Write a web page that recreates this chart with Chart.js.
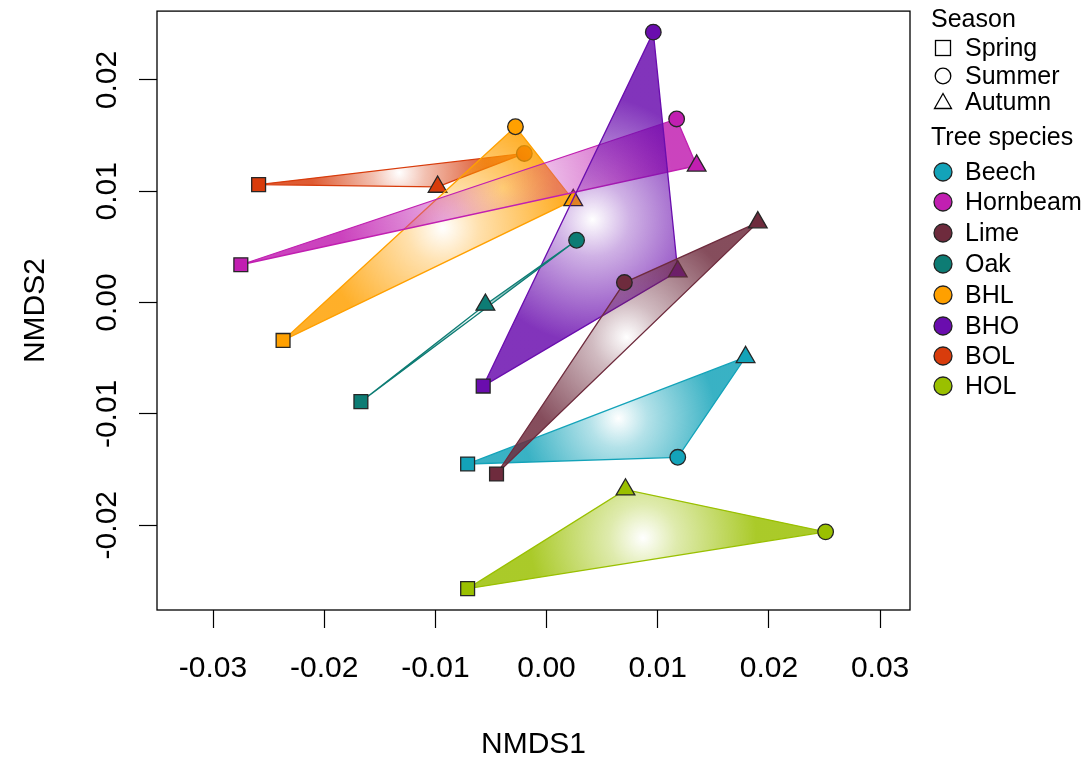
<!DOCTYPE html>
<html><head><meta charset="utf-8">
<script src="https://cdn.jsdelivr.net/npm/chart.js@4.4.1/dist/chart.umd.min.js"></script>
<style>
html,body{margin:0;padding:0;background:#fff;}
#wrap{position:relative;width:1087px;height:761px;overflow:hidden;}
#c{position:absolute;left:0;top:0;}
#legend{position:absolute;left:0;top:0;width:1087px;height:761px;pointer-events:none;font-family:"Liberation Sans",Arial,Helvetica,sans-serif;font-size:25px;color:#000;}
.row{position:absolute;height:26px;line-height:26px;white-space:nowrap;}
.sym{position:absolute;}
</style></head>
<body>
<div id="wrap">
<canvas id="c" width="1087" height="761"></canvas>
<div id="legend"></div>
</div>
<script>
// ---- data ----
const species = ['Beech','Hornbeam','Lime','Oak','BHL','BHO','BOL','HOL'];
const speciesColors = ['#13A3B9','#C11FB1','#6E2B3D','#0D7C74','#FFA000','#6A0DAE','#D83C0C','#9AC000'];
const seasons = ['Spring','Summer','Autumn'];
const seasonShapes = ['rect','circle','triangle'];
// NMDS1 per species: [Spring, Summer, Autumn]
const nmds1 = [
  [-0.0071, 0.0118, 0.0179],
  [-0.0275, 0.0117, 0.0135],
  [-0.0045, 0.0070, 0.0190],
  [-0.0167, 0.0027, -0.0055],
  [-0.0237, -0.0028, 0.0024],
  [-0.0057, 0.0096, 0.0118],
  [-0.0259, -0.0020, -0.0098],
  [-0.0071, 0.0251, 0.0071]
];
// NMDS2 per species: [Spring, Summer, Autumn]
const nmds2 = [
  [-0.0145, -0.0139, -0.0049],
  [0.0034, 0.0165, 0.0123],
  [-0.0154, 0.0018, 0.0072],
  [-0.0089, 0.0056, -0.0002],
  [-0.0034, 0.0158, 0.0092],
  [-0.0075, 0.0243, 0.0028],
  [0.0106, 0.0134, 0.0104],
  [-0.0257, -0.0206, -0.0168]
];
// layering (first = bottom)
const drawSequence = ['Beech','HOL','BOL','BHL','Hornbeam','BHO','Lime','Oak'];
const xTicks = [-0.03,-0.02,-0.01,0.00,0.01,0.02,0.03];
const xTickLabels = ['-0.03','-0.02','-0.01','0.00','0.01','0.02','0.03'];
const yTicks = [-0.02,-0.01,0.00,0.01,0.02];
const yTickLabels = ['-0.02','-0.01','0.00','0.01','0.02'];
const xRange = [-0.03504, 0.03269];
const yRange = [-0.02762, 0.02619];

// ---- helpers ----
function rgbOf(hex){
  const n = parseInt(hex.slice(1),16);
  return [(n>>16)&255, (n>>8)&255, n&255];
}
function rgba(hex, a){ const c = rgbOf(hex); return 'rgba('+c[0]+','+c[1]+','+c[2]+','+a+')'; }
const FONT = '"Liberation Sans", Arial, Helvetica, sans-serif';

function gradientFor(i){
  return function(ctx){
    const chart = ctx.chart;
    const xs = chart.scales.x, ys = chart.scales.y;
    const col = speciesColors[i];
    if (!chart.chartArea || !xs || !ys) return rgba(col,0.6);
    const px = nmds1[i].map(v => xs.getPixelForValue(v));
    const py = nmds2[i].map(v => ys.getPixelForValue(v));
    const gx = (px[0]+px[1]+px[2])/3, gy = (py[0]+py[1]+py[2])/3;
    const bx = (Math.min(...px)+Math.max(...px))/2, by = (Math.min(...py)+Math.max(...py))/2;
    const cx = (gx + bx) / 2, cy = (gy + by) / 2;
    let r = 0;
    for (let k=0;k<3;k++) r = Math.max(r, Math.hypot(px[k]-cx, py[k]-cy));
    r *= 0.62;
    const g = chart.ctx.createRadialGradient(cx,cy,0,cx,cy,Math.max(r,1));
    g.addColorStop(0, rgba(col,0.0));
    g.addColorStop(0.3, rgba(col,0.32));
    g.addColorStop(1, rgba(col,0.84));
    return g;
  };
}

const datasets = species.map((sp,i) => {
  const pts = nmds1[i].map((x,k) => ({x:x, y:nmds2[i][k]}));
  pts.push({x:nmds1[i][0], y:nmds2[i][0]}); // close the polygon
  return {
    label: sp,
    data: pts,
    showLine: true,
    fill: 'shape',
    tension: 0,
    borderColor: speciesColors[i],
    borderWidth: 1.3,
    backgroundColor: gradientFor(i),
    pointStyle: seasonShapes.concat(['rect']),
    pointRadius: [9.8, 7.8, 10.8, 0],
    pointHoverRadius: [9.8, 7.8, 10.8, 0],
    pointBackgroundColor: speciesColors[i],
    pointBorderColor: '#262626',
    pointBorderWidth: 1.3,
    order: 20 - drawSequence.indexOf(sp)
  };
});

const boxPlugin = {
  id: 'box',
  afterDraw(chart){
    const {ctx, chartArea:a} = chart;
    ctx.save();
    ctx.strokeStyle = '#000';
    ctx.lineWidth = 1.3;
    ctx.strokeRect(a.left, a.top, a.right-a.left, a.bottom-a.top);
    ctx.restore();
  }
};

function noPad(s){ s.paddingTop = 0; s.paddingBottom = 0; s.paddingLeft = 0; s.paddingRight = 0; }

new Chart(document.getElementById('c'), {
  type: 'scatter',
  data: { datasets },
  options: {
    responsive: false,
    animation: false,
    events: [],
    layout: { padding: { top: 10, right: 177, left: 0, bottom: 0 } },
    plugins: { legend: { display: false }, tooltip: { enabled: false } },
    scales: {
      x: {
        type: 'linear', position: 'bottom',
        min: xRange[0], max: xRange[1],
        afterBuildTicks: s => { s.ticks = xTicks.map(v => ({value: v})); },
        afterFit: s => { s.height = 151; noPad(s); },
        grid: { display: true, drawOnChartArea: false, drawTicks: true, tickLength: 18, color: '#000', tickColor: '#000', tickWidth: 1.2 },
        border: { display: false },
        ticks: {
          color: '#000', padding: 23, maxRotation: 0, minRotation: 0,
          font: { family: FONT, size: 30 },
          callback: v => { const k = xTicks.findIndex(t => Math.abs(t - v) < 1e-9); return k >= 0 ? xTickLabels[k] : ''; }
        },
        title: { display: true, text: 'NMDS1', color: '#000', font: { family: FONT, size: 30, lineHeight: 1 }, padding: { top: 0, bottom: 1 } }
      },
      y: {
        type: 'linear', position: 'left',
        min: yRange[0], max: yRange[1],
        afterBuildTicks: s => { s.ticks = yTicks.map(v => ({value: v})); },
        afterFit: s => { s.width = 157; noPad(s); },
        grid: { display: true, drawOnChartArea: false, drawTicks: true, tickLength: 18, color: '#000', tickColor: '#000', tickWidth: 1.2 },
        border: { display: false },
        ticks: {
          color: '#000', padding: -3, minRotation: 90, maxRotation: 90, crossAlign: 'center',
          font: { family: FONT, size: 30 },
          callback: v => { const k = yTicks.findIndex(t => Math.abs(t - v) < 1e-9); return k >= 0 ? yTickLabels[k] : ''; }
        },
        title: { display: true, text: 'NMDS2', color: '#000', font: { family: FONT, size: 30, lineHeight: 1 }, padding: { top: 21, bottom: 0 } }
      }
    }
  },
  plugins: [boxPlugin]
});

// ---- HTML legend ----
const L = document.getElementById('legend');
function addRow(cy, text, svg){
  const d = document.createElement('div');
  d.className = 'row';
  d.style.left = (svg ? 965 : 931) + 'px';
  d.style.top = (cy - 13) + 'px';
  d.textContent = text;
  L.appendChild(d);
  if (svg){
    const s = document.createElement('div');
    s.className = 'sym';
    s.style.left = (943 - 11) + 'px';
    s.style.top = (cy - 11) + 'px';
    s.innerHTML = svg;
    L.appendChild(s);
  }
}
const shapeSvg = {
  rect: '<svg width="22" height="22"><rect x="3.5" y="3.5" width="15" height="15" fill="none" stroke="#000" stroke-width="1.3"/></svg>',
  circle: '<svg width="22" height="22"><circle cx="11" cy="11" r="7.8" fill="none" stroke="#000" stroke-width="1.3"/></svg>',
  triangle: '<svg width="22" height="22"><polygon points="11,2.5 19.5,17.5 2.5,17.5" fill="none" stroke="#000" stroke-width="1.3"/></svg>'
};
addRow(18, 'Season', null);
const seasonRowY = [47, 75, 101];
seasons.forEach((s,k) => addRow(seasonRowY[k], s, shapeSvg[seasonShapes[k]]));
addRow(136, 'Tree species', null);
const speciesRowY = [171, 201, 232, 263, 294, 325, 355, 385];
species.forEach((sp,k) => addRow(speciesRowY[k], sp,
  '<svg width="22" height="22"><circle cx="11" cy="11" r="9" fill="'+speciesColors[k]+'" stroke="#222" stroke-width="1.3"/></svg>'));
</script>
</body></html>
